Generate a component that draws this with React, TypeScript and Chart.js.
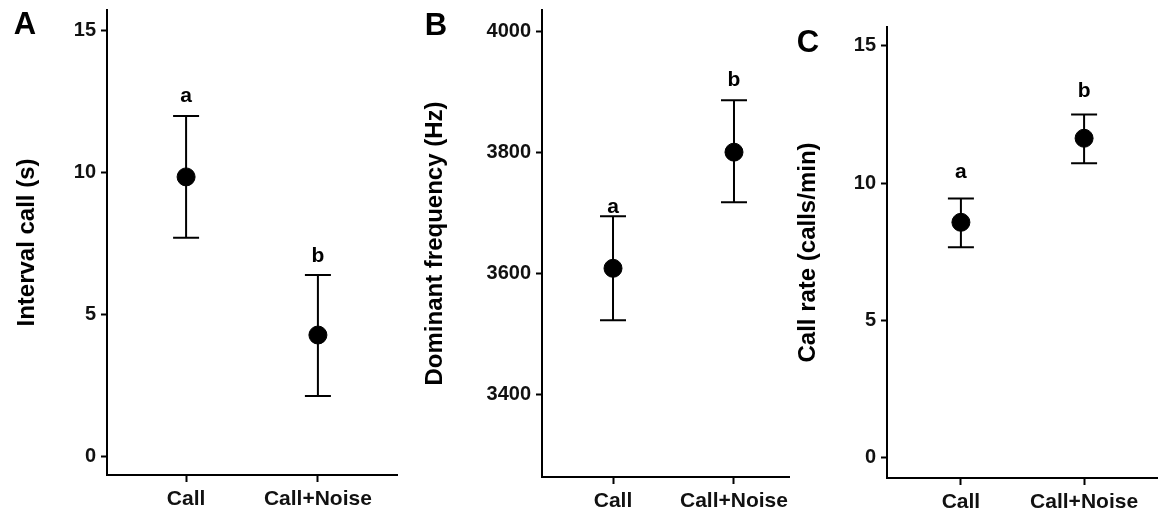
import React, { useEffect, useRef } from "react";
import { Chart, registerables } from "chart.js";

Chart.register(...registerables);

// ---------- data ----------
const groups = ["Call", "Call+Noise"];
const letters = ["a", "b"];

const intervalMean = [9.85, 4.27];
const intervalLower = [7.7, 2.12];
const intervalUpper = [12.0, 6.39];
const intervalLetterY = [12.5, 6.85];
const intervalTicks = [0, 5, 10, 15];

const freqMean = [3608, 3800];
const freqLower = [3522, 3717];
const freqUpper = [3694, 3886];
const freqLetterY = [3699, 3909];
const freqTicks = [3400, 3600, 3800, 4000];

const rateMean = [8.58, 11.64];
const rateLower = [7.67, 10.73];
const rateUpper = [9.45, 12.5];
const rateLetterY = [10.19, 13.14];
const rateTicks = [0, 5, 10, 15];

const FONT = "'Liberation Sans', Arial, sans-serif";
const H = 512;

type Panel = {
  tag: string;
  title: string;
  mean: number[];
  lower: number[];
  upper: number[];
  letterY: number[];
  yTicks: number[];
  yMin: number;
  yMax: number;
  xMin: number;
  xMax: number;
  canvasLeft: number;
  canvasWidth: number;
  area: { top: number; bottom: number; left: number; right: number };
  titlePad: number;
  tagPos: [number, number];
};

const panels: Panel[] = [
  {
    tag: "A",
    title: "Interval call (s)",
    mean: intervalMean,
    lower: intervalLower,
    upper: intervalUpper,
    letterY: intervalLetterY,
    yTicks: intervalTicks,
    yMin: -0.67,
    yMax: 15.74,
    xMin: 0.4,
    xMax: 2.6,
    canvasLeft: 0,
    canvasWidth: 400,
    area: { top: 10, bottom: 475, left: 107, right: 397 },
    titlePad: 12.6,
    tagPos: [25, 25],
  },
  {
    tag: "B",
    title: "Dominant frequency (Hz)",
    mean: freqMean,
    lower: freqLower,
    upper: freqUpper,
    letterY: freqLetterY,
    yTicks: freqTicks,
    yMin: 3263,
    yMax: 4035,
    xMin: 0.413,
    xMax: 2.463,
    canvasLeft: 400,
    canvasWidth: 390,
    area: { top: 10, bottom: 477, left: 142, right: 390 },
    titlePad: 20.6,
    tagPos: [36, 26],
  },
  {
    tag: "C",
    title: "Call rate (calls/min)",
    mean: rateMean,
    lower: rateLower,
    upper: rateUpper,
    letterY: rateLetterY,
    yTicks: rateTicks,
    yMin: -0.73,
    yMax: 15.69,
    xMin: 0.4,
    xMax: 2.6,
    canvasLeft: 790,
    canvasWidth: 368,
    area: { top: 27, bottom: 478, left: 97, right: 368 },
    titlePad: 3.6,
    tagPos: [18, 43],
  },
];

function makePlugin(p: Panel) {
  return {
    id: "errbars" + p.tag,
    beforeDatasetsDraw(chart: any) {
      const { ctx, scales } = chart;
      const x = scales.x;
      const y = scales.y;
      ctx.save();
      ctx.strokeStyle = "#000";
      ctx.lineWidth = 2;
      p.mean.forEach((_m, i) => {
        const px = x.getPixelForValue(i + 1);
        const yl = y.getPixelForValue(p.lower[i]);
        const yu = y.getPixelForValue(p.upper[i]);
        ctx.beginPath();
        ctx.moveTo(px, yl);
        ctx.lineTo(px, yu);
        ctx.moveTo(px - 13, yl);
        ctx.lineTo(px + 13, yl);
        ctx.moveTo(px - 13, yu);
        ctx.lineTo(px + 13, yu);
        ctx.stroke();
      });
      ctx.restore();
    },
    afterDraw(chart: any) {
      const { ctx, scales } = chart;
      const x = scales.x;
      const y = scales.y;
      ctx.save();
      ctx.fillStyle = "#000";
      ctx.textAlign = "center";
      ctx.textBaseline = "alphabetic";
      ctx.font = `bold 21px ${FONT}`;
      p.letterY.forEach((ly, i) => {
        ctx.fillText(letters[i], x.getPixelForValue(i + 1), y.getPixelForValue(ly));
      });
      ctx.font = `bold 31px ${FONT}`;
      ctx.textBaseline = "middle";
      ctx.fillText(p.tag, p.tagPos[0], p.tagPos[1]);
      ctx.restore();
    },
  };
}

function PanelChart({ p }: { p: Panel }) {
  const ref = useRef<HTMLCanvasElement>(null);
  useEffect(() => {
    if (!ref.current) return;
    const chart = new Chart(ref.current, {
      type: "scatter",
      data: {
        datasets: [
          {
            data: p.mean.map((m, i) => ({ x: i + 1, y: m })),
            backgroundColor: "#000",
            borderColor: "#000",
            pointRadius: 9,
            pointHoverRadius: 9,
          },
        ],
      },
      options: {
        animation: false,
        responsive: false,
        maintainAspectRatio: false,
        events: [],
        layout: {
          autoPadding: false,
          padding: {
            left: 0,
            top: p.area.top,
            right: p.canvasWidth - p.area.right,
            bottom: 0,
          },
        },
        plugins: {
          legend: { display: false },
          tooltip: { enabled: false },
          title: { display: false },
        },
        scales: {
          x: {
            type: "linear",
            min: p.xMin,
            max: p.xMax,
            afterBuildTicks: (s: any) => {
              s.ticks = groups.map((_g, i) => ({ value: i + 1 }));
            },
            afterFit: (s: any) => {
              s.height = H - p.area.bottom;
              s.paddingLeft = 0;
              s.paddingRight = 0;
            },
            grid: {
              drawOnChartArea: false,
              drawTicks: true,
              tickLength: 7,
              tickWidth: 2,
              tickColor: "#000",
            },
            border: { display: true, color: "#000", width: 2 },
            ticks: {
              padding: 5,
              color: "#111",
              font: { family: FONT, size: 21, weight: "bold" },
              callback: (v: any) => groups[Math.round(Number(v)) - 1] ?? "",
              maxRotation: 0,
              autoSkip: false,
            },
          },
          y: {
            type: "linear",
            min: p.yMin,
            max: p.yMax,
            afterBuildTicks: (s: any) => {
              s.ticks = p.yTicks.map((v) => ({ value: v }));
            },
            afterFit: (s: any) => {
              s.width = p.area.left;
              s.paddingTop = 0;
              s.paddingBottom = 0;
            },
            grid: {
              drawOnChartArea: false,
              drawTicks: true,
              tickLength: 6,
              tickWidth: 2,
              tickColor: "#000",
            },
            border: { display: true, color: "#000", width: 2 },
            ticks: {
              padding: 5,
              color: "#111",
              font: { family: FONT, size: 20, weight: "bold" },
              autoSkip: false,
              callback: (v: any) => String(v),
            },
            title: {
              display: true,
              text: p.title,
              color: "#000",
              font: { family: FONT, size: 24, weight: "bold" },
              padding: { top: p.titlePad, bottom: 0 },
            },
          },
        },
      },
      plugins: [makePlugin(p)],
    } as any);
    return () => chart.destroy();
  }, [p]);
  return (
    <canvas
      ref={ref}
      width={p.canvasWidth}
      height={H}
      style={{
        position: "absolute",
        left: p.canvasLeft,
        top: 0,
        width: p.canvasWidth,
        height: H,
      }}
    />
  );
}

export default function App() {
  return (
    <div
      style={{
        position: "fixed",
        left: 0,
        top: 0,
        width: 1158,
        height: H,
        background: "#fff",
        overflow: "hidden",
      }}
    >
      {panels.map((p) => (
        <PanelChart key={p.tag} p={p} />
      ))}
    </div>
  );
}
